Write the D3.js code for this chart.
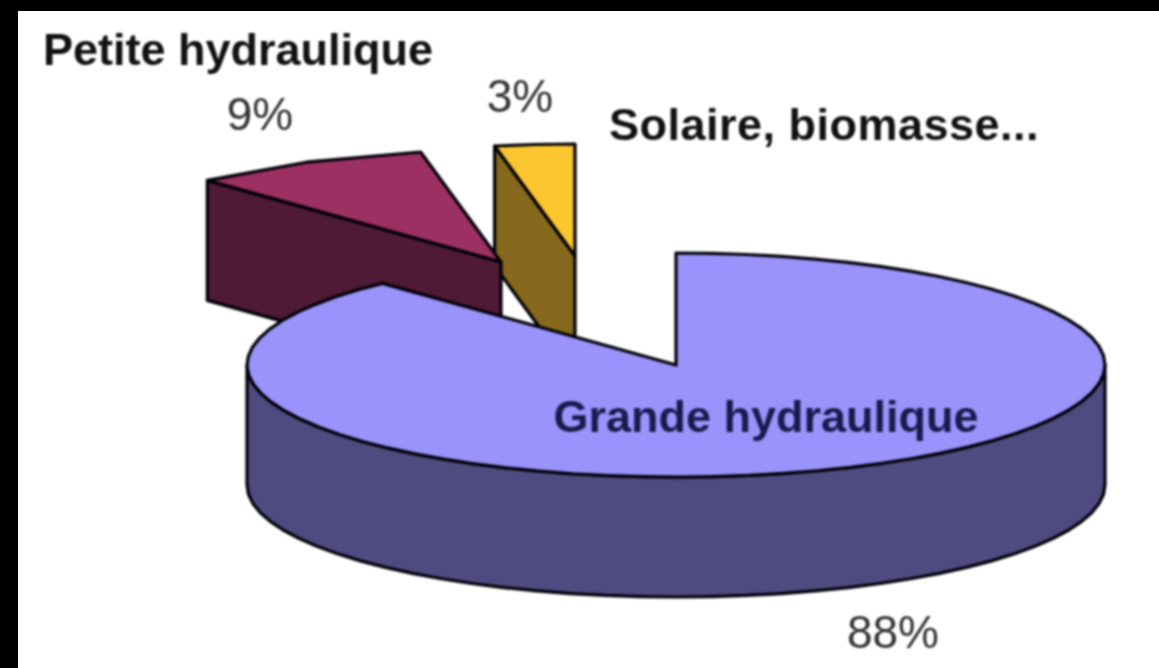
<!DOCTYPE html>
<html>
<head>
<meta charset="utf-8">
<script src="https://cdn.jsdelivr.net/npm/d3@7"></script>
<style>
html, body { margin: 0; padding: 0; background: #000; overflow: hidden; }
svg { display: block; }
</style>
</head>
<body>
<div id="container"></div>
<script>
// chart values, clockwise from 12 o'clock
var categories = ["Grande hydraulique", "Petite hydraulique", "Solaire, biomasse..."];
var values = [88, 9, 3];
var percent_labels = ["88%", "9%", "3%"];
var top_colors = ["#9a93fb", "#9c3063", "#fcc62f"];
var side_colors = ["#4f4b80", "#4f1a35", "#86691c"];

// layout of the picture
var width = 1159, height = 668;
var frame = {left: 18, top: 11};
var rx = 429, ry = 112, depth = 120;
var centers = [[676, 365], [501, 262], [575, 256]];
var name_pos = [[766, 432], [238, 65], [824, 140]];
var name_spacing = [0, 0, 0.5];
var pct_pos = [[893, 648], [260, 130], [520, 112]];

var svg = d3.select("#container")
    .append("svg")
    .attr("width", width)
    .attr("height", height);

svg.append("rect")
    .attr("x", frame.left)
    .attr("y", frame.top)
    .attr("width", width - frame.left)
    .attr("height", height - frame.top)
    .attr("fill", "white");

var chart = svg.append("g").style("filter", "blur(0.8px)");

var slices = d3.pie().sort(null).value(function(d){ return d; })(values);
var line = d3.line();

// Point on the rim of slice i, dz pixels below the top face
function rim(i, a, dz) {
    return [centers[i][0] + rx*Math.sin(a), centers[i][1] - ry*Math.cos(a) + dz];
}
function apex(i, dz) {
    return [centers[i][0], centers[i][1] + dz];
}
//Coarse on purpose, the outline in the picture is made of short straight pieces
function arc_points(i, a0, a1, dz) {
    var span = a1 - a0;
    var n = span > 1 ? Math.ceil(span*12) : 2;
    return d3.range(n + 1).map(function(k){ return rim(i, a0 + span*k/n, dz); });
}

function draw_face(points, fill) {
    chart.append("path")
        .attr("d", line(points) + "Z")
        .attr("fill", fill)
        .attr("stroke", "#000008")
        .attr("stroke-width", 3.2)
        .attr("stroke-linejoin", "round");
}

// Back slices first so the big one covers them
[2, 1, 0].forEach(function(i) {
    var a0 = slices[i].startAngle, a1 = slices[i].endAngle;

    // Cut faces that turn towards the viewer
    if (Math.sin(a0) < -1e-6) {
        draw_face([rim(i, a0, 0), apex(i, 0), apex(i, depth), rim(i, a0, depth)], side_colors[i]);
    }
    if (Math.sin(a1) > 1e-6) {
        draw_face([rim(i, a1, 0), apex(i, 0), apex(i, depth), rim(i, a1, depth)], side_colors[i]);
    }

    // Outer wall, only the front half of the ellipse can be seen
    var w0 = Math.max(a0, Math.PI/2), w1 = Math.min(a1, 3*Math.PI/2);
    if (w1 > w0) {
        draw_face(arc_points(i, w0, w1, 0).concat(arc_points(i, w0, w1, depth).reverse()), side_colors[i]);
    }

    // Top face
    draw_face(arc_points(i, a0, a1, 0).concat([apex(i, 0)]), top_colors[i]);
});

// Names
chart.selectAll("text.name")
    .data(categories)
    .enter()
    .append("text")
        .attr("class", "name")
        .attr("x", function(d, i){ return name_pos[i][0]; })
        .attr("y", function(d, i){ return name_pos[i][1]; })
        .attr("text-anchor", "middle")
        .attr("font-family", "Liberation Sans, Arial, sans-serif")
        .attr("font-weight", "bold")
        .attr("font-size", "45px")
        .attr("letter-spacing", function(d, i){ return name_spacing[i]; })
        .attr("fill", function(d, i){ return i == 0 ? "#1a1a4d" : "#111"; })
        .text(function(d){ return d; });

// Percentages
chart.selectAll("text.pct")
    .data(percent_labels)
    .enter()
    .append("text")
        .attr("class", "pct")
        .attr("x", function(d, i){ return pct_pos[i][0]; })
        .attr("y", function(d, i){ return pct_pos[i][1]; })
        .attr("text-anchor", "middle")
        .attr("font-family", "Liberation Sans, Arial, sans-serif")
        .attr("font-size", "46px")
        .attr("fill", "#333")
        .text(function(d){ return d; });
</script>
</body>
</html>
